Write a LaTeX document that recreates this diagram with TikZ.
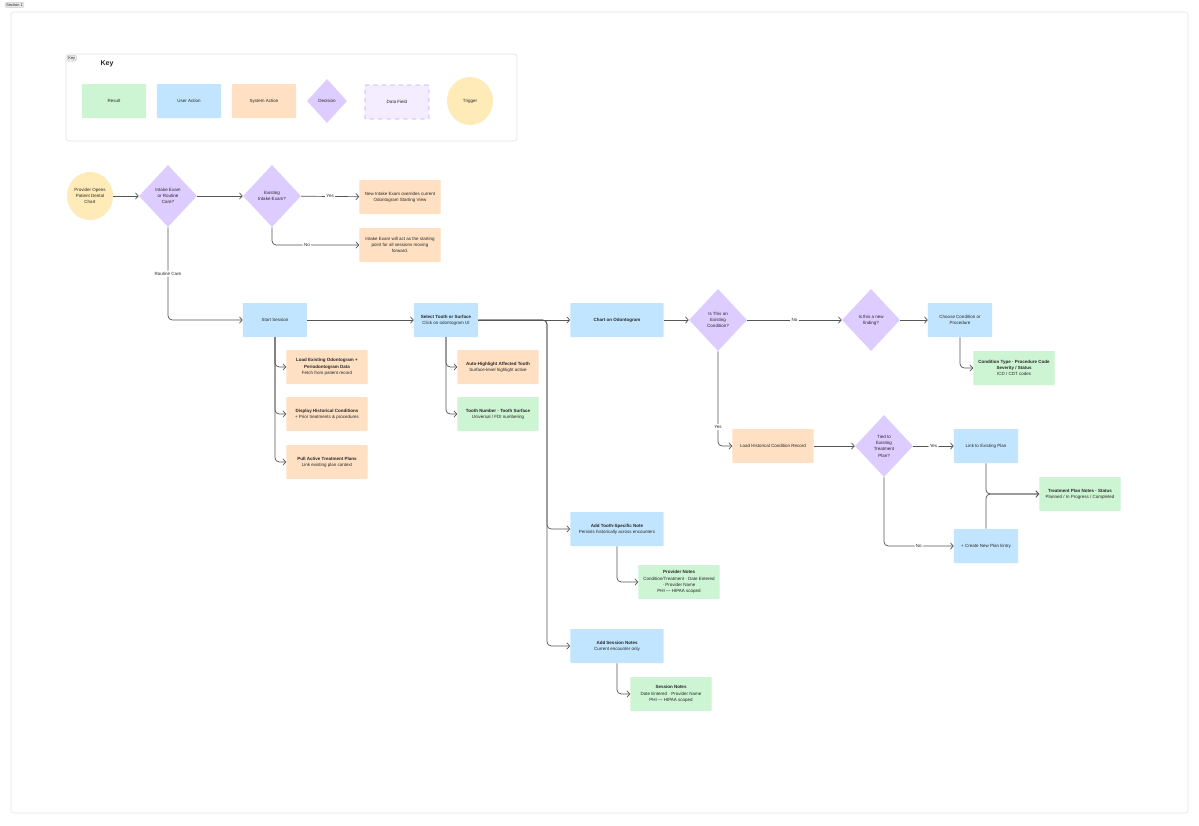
\documentclass[tikz,border=0pt]{standalone}
\usepackage{fontspec}
\setmainfont{Liberation Sans}
\usetikzlibrary{shapes.geometric,arrows.meta,positioning}
\definecolor{resultc}{HTML}{CDF4D3}
\definecolor{userc}{HTML}{C2E5FF}
\definecolor{systemc}{HTML}{FFE0C2}
\definecolor{decisionc}{HTML}{DCCCFF}
\definecolor{datac}{HTML}{F3EDFF}
\definecolor{databorder}{HTML}{C9A0FF}
\definecolor{triggerc}{HTML}{FFEBB8}
\definecolor{linec}{HTML}{555555}
\tikzset{
  every node/.style={font=\fontsize{3.2}{4.5}\selectfont, align=center, text=black!85},
  box/.style={rectangle, rounded corners=0.5pt, inner sep=1pt, minimum width=1.6cm, minimum height=0.85cm},
  wide/.style={box, minimum width=2.025cm},
  result/.style={box, fill=resultc},
  user/.style={box, fill=userc},
  system/.style={box, fill=systemc},
  decision/.style={diamond, fill=decisionc, inner sep=0pt, minimum width=1.45cm, minimum height=1.55cm},
  trigger/.style={ellipse, fill=triggerc, inner sep=0pt, minimum width=1.15cm, minimum height=1.2cm},
  flow/.style={draw=linec, line width=0.5pt, rounded corners=3pt, -{Straight Barb[length=2pt,width=4.5pt]}},
  lbl/.style={fill=white, inner sep=1pt},
  tag/.style={fill=black!8, draw=black!20, rounded corners=0.8pt, inner sep=0.8pt, font=\fontsize{2.8}{3}\selectfont}
}
\begin{document}
\begin{tikzpicture}[x=0.025cm, y=-0.025cm]
    \useasboundingbox (0,0) rectangle (1199,825);

    % Section frame
    \draw[black!10, fill=white, rounded corners=2pt] (11,12) rectangle (1188,813);
    \node[tag, anchor=north west] (sec) at (5,2) {Section 1};

    % Key
    \draw[black!12, rounded corners=2pt] (66,54) rectangle (517,141);
    \node[tag, anchor=north west] (keytag) at (67,55) {Key};
    \node[font=\fontsize{5}{6}\selectfont\bfseries] (keytitle) at (107,64) {Key};
    \node[result] (kresult) at (114,101) {Result};
    \node[user] (kuser) at (189,101) {User Action};
    \node[system] (ksystem) at (264,101) {System Action};
    \node[decision, minimum width=1cm, minimum height=1.1cm] (kdecision) at (327,101) {Decision};
    \node[box, fill=datac, draw=databorder, dashed, line width=0.5pt] (kdata) at (397,102) {Data Field};
    \node[trigger] (ktrigger) at (470,101) {Trigger};

    % Intake
    \node[trigger] (open) at (90,196) {Provider Opens\\Patient Dental\\Chart};
    \node[decision] (intake) at (168,196) {Intake Exam\\or Routine\\Care?};
    \node[decision] (existing) at (272,196) {Existing\\Intake Exam?};
    \node[wide, fill=systemc] (override) at (400,197) {New Intake Exam overrides current\\Odontogram Starting View};
    \node[wide, fill=systemc] (start) at (400,245) {Intake Exam will act as the starting\\point for all sessions moving\\forward.};

    \draw[flow] (open) -- (intake);
    \draw[flow] (intake) -- (existing);
    \draw[flow] (existing) -- node[lbl] {Yes} (override);
    \draw[flow] (existing.south) |- node[lbl, pos=0.7] {No} (start.west);

    % Session
    \node[user] (session) at (275,320) {Start Session};
    \node[wide, fill=systemc] (load) at (327,367) {\textbf{Load Existing Odontogram +}\\\textbf{Periodontogram Data}\\Fetch from patient record};
    \node[wide, fill=systemc] (history) at (327,414) {\textbf{Display Historical Conditions}\\+ Prior treatments \& procedures};
    \node[wide, fill=systemc] (plans) at (327,462) {\textbf{Pull Active Treatment Plans}\\Link existing plan context};

    \draw[flow] (intake.south) |- node[lbl, pos=0.25] {Routine Care} (session.west);
    \foreach \n in {load, history, plans} {
        \draw[flow] (275,337) |- (\n.west);
    }

    % Tooth selection
    \node[user] (select) at (446,320) {\textbf{Select Tooth or Surface}\\Click on odontogram UI};
    \node[wide, fill=systemc] (highlight) at (498,367) {\textbf{Auto-Highlight Affected Tooth}\\Surface-level highlight active};
    \node[wide, fill=resultc] (number) at (498,414) {\textbf{Tooth Number · Tooth Surface}\\Universal / FDI numbering};

    \draw[flow] (session) -- (select);
    \foreach \n in {highlight, number} {
        \draw[flow] (446,337) |- (\n.west);
    }

    % Charting and notes
    \node[user, minimum width=2.33cm] (chart) at (617,320) {\textbf{Chart on Odontogram}};
    \node[user, minimum width=2.33cm] (toothnote) at (617,529) {\textbf{Add Tooth-Specific Note}\\Persists historically across encounters};
    \node[user, minimum width=2.33cm] (sessnote) at (617,646) {\textbf{Add Session Notes}\\Current encounter only};
    \node[wide, fill=resultc] (provnotes) at (679,582) {\textbf{Provider Notes}\\Condition/Treatment · Date Entered\\· Provider Name\\PHI — HIPAA scoped};
    \node[wide, fill=resultc] (sessnotes) at (671,694) {\textbf{Session Notes}\\Date Entered · Provider Name\\PHI — HIPAA scoped};
    \coordinate (branch) at (547,420);

    \draw[flow] (select) -- (chart);
    \draw[flow] (select.east) -| (branch) |- (toothnote.west);
    \draw[flow] (select.east) -| (branch) |- (sessnote.west);
    \draw[flow] (toothnote.south) |- (provnotes.west);
    \draw[flow] (sessnote.south) |- (sessnotes.west);

    % Condition decisions
    \node[decision] (iscond) at (718,320) {Is This an\\Existing\\Condition?};
    \node[decision] (isnew) at (871,320) {Is this a new\\finding?};
    \node[user] (choose) at (960,320) {Choose Condition or\\Procedure};
    \node[wide, fill=resultc] (ctype) at (1014,368) {\textbf{Condition Type · Procedure Code}\\\textbf{Severity / Status}\\ICD / CDT codes};
    \node[wide, fill=systemc] (loadhist) at (773,446) {Load Historical Condition Record};

    \draw[flow] (chart) -- (iscond);
    \draw[flow] (iscond) -- node[lbl] {No} (isnew);
    \draw[flow] (isnew) -- (choose);
    \draw[flow] (choose.south) |- (ctype.west);
    \draw[flow] (iscond.south) |- node[lbl, pos=0.4] {Yes} (loadhist.west);

    % Treatment plan
    \node[decision] (tied) at (884,446) {Tied to\\Existing\\Treatment\\Plan?};
    \node[user] (linkplan) at (986,446) {Link to Existing Plan};
    \node[user] (newplan) at (986,546) {+ Create New Plan Entry};
    \node[wide, fill=resultc] (tpnotes) at (1080,494) {\textbf{Treatment Plan Notes · Status}\\Planned / In Progress / Completed};

    \draw[flow] (loadhist) -- (tied);
    \draw[flow] (tied) -- node[lbl] {Yes} (linkplan);
    \draw[flow] (tied.south) |- node[lbl, pos=0.75] {No} (newplan.west);
    \draw[flow] (linkplan.south) |- (tpnotes.west);
    \draw[flow] (newplan.north) |- (tpnotes.west);
\end{tikzpicture}
\end{document}
